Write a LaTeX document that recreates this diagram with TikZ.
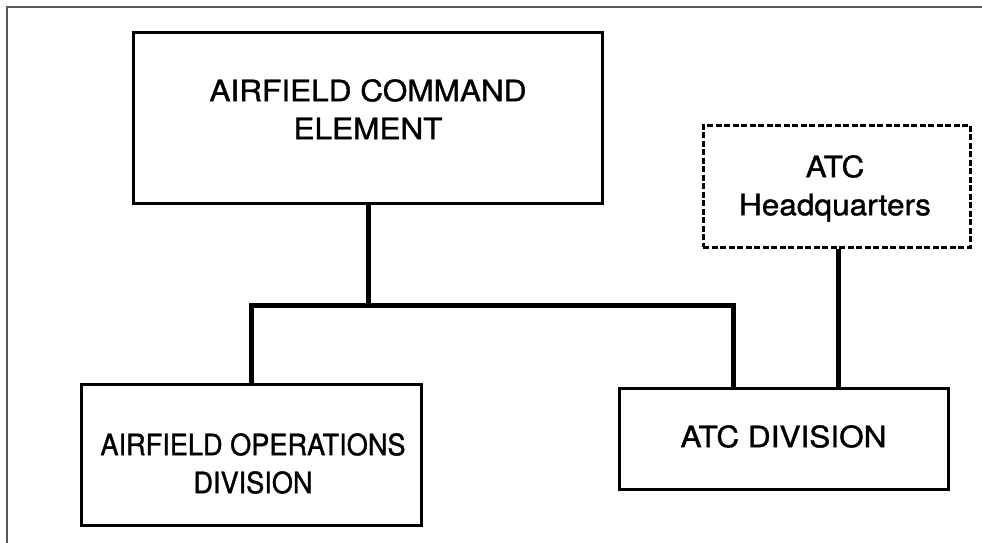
\documentclass[tikz,border=0pt]{standalone}
\usepackage{fontspec}
\setmainfont{TeX Gyre Heros}
\newfontfamily\widesans[FakeStretch=1.07, FakeBold=1.2]{TeX Gyre Heros}
\newfontfamily\narrowsans[FakeStretch=0.92, FakeBold=1.2]{TeX Gyre Heros}
\tikzset{
  unit/.style={draw, line width=3.5pt, rectangle, inner sep=0pt},
  hqunit/.style={draw, line width=3pt, dash pattern=on 6pt off 2.5pt, rectangle, inner sep=0pt},
  caption/.style={align=center, inner sep=0pt, anchor=north, font=\fontsize{29.5}{38}\widesans},
  link/.style={line width=5pt},
  frame/.style={draw=black!65, line width=1.3pt}
}
\begin{document}
\begin{tikzpicture}[x=1pt, y=-1pt]
  \useasboundingbox (0,0) rectangle (982,543);
  \draw[frame] (7,543) |- (982,7);
  % boxes
  \node[unit, minimum width=469pt, minimum height=171pt] (ace) at (368,118) {};
  \node[hqunit, minimum width=267pt, minimum height=122pt] (hq) at (836.5,186) {};
  \node[unit, minimum width=340pt, minimum height=141pt] (aod) at (251.5,455) {};
  \node[unit, minimum width=329pt, minimum height=101pt] (atc) at (784,439) {};
  % texts
  \node[caption] (acetxt) at (368,79) {AIRFIELD COMMAND\\ELEMENT};
  \node[caption] (hqtxt) at (835,155) {ATC\\Headquarters};
  \node[caption, font=\fontsize{29.5}{38}\narrowsans] (aodtxt) at (253,433) {AIRFIELD OPERATIONS\\DIVISION};
  \node[caption] (atctxt) at (783.5,425) {ATC DIVISION};
  % connectors
  \coordinate (bar) at (368,305);
  \draw[link] (ace.south) -- (bar);
  \draw[link] (aod.north) |- (bar) -| ([xshift=-51pt]atc.north);
  \draw[link] ([xshift=2pt]hq.south) -- ([xshift=2pt]hq.south |- atc.north);
\end{tikzpicture}
\end{document}
